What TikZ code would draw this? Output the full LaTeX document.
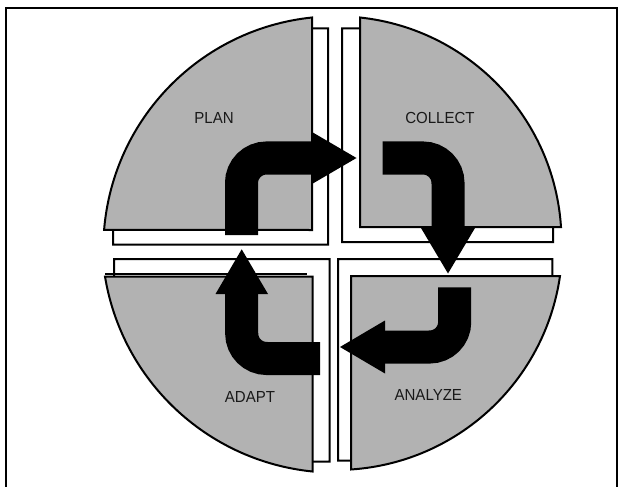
\documentclass[tikz,border=0pt]{standalone}
\usepackage{fontspec}
\setmainfont{Liberation Sans}
\definecolor{quadgray}{RGB}{178,178,178}
\begin{document}
\begin{tikzpicture}[x=1pt,y=1pt,yscale=-1,
  backrect/.style={draw=black,line width=2pt,fill=white,line join=miter},
  quad/.style={draw=black,line width=2pt,fill=quadgray,line join=miter},
  shaft/.style={draw=black,line width=33pt,rounded corners=25pt},
  head/.style={fill=black},
  lbl/.style={font=\fontsize{16}{19}\selectfont,text=black!90,xscale=0.94,inner sep=0pt},
  frame/.style={draw=black,line width=2.5pt}]
\useasboundingbox (0,0) rectangle (622,487);
% frame
\draw[frame] (6,495) -- (6,8) -- (617,8) -- (617,495);
% white back pieces (mostly hidden behind the quadrants)
\draw[backrect] (113,225) -- (113,244.5) -- (328,244.5) -- (328,28.5) -- (295,28.5) -- cycle;
\draw[backrect] (342,28.5) -- (375,28.5) -- (553,215) -- (553,242) -- (342,242) -- cycle;
\draw[backrect] (114,259) -- (329.5,259) -- (329.5,461.7) -- (300,461.7) -- (114,290) -- cycle;
\draw[backrect] (338,259) -- (552.3,259) -- (552.3,300) -- (370,460.5) -- (338,460.5) -- cycle;
% quadrants
\draw[quad] (312,230) -- (312,17.5) arc[start angle=264.08,end angle=184.68,radius=232.7] -- cycle;
\draw[quad] (360,227) -- (360,17.5) arc[start angle=276.11,end angle=356.26,radius=225.5] -- cycle;
\draw[quad] (312.5,276.5) -- (105,276.5) arc[start angle=170.68,end angle=95.76,radius=234.1] -- cycle;
\draw[black,line width=2pt] (105,274.3) -- (307,274.3);
\draw[quad] (351,276) -- (560,276) arc[start angle=8.21,end angle=86.2,radius=226.3] -- cycle;
% labels
\node[lbl] (plan) at (214,118.3) {PLAN};
\node[lbl] (collect) at (440,118.3) {COLLECT};
\node[lbl] (adapt) at (250,396.7) {ADAPT};
\node[lbl] (analyze) at (428.3,395) {ANALYZE};
% arrow 1: plan -> collect
\coordinate (a1s) at (241.5,235);
\coordinate (a1c) at (241.5,158);
\coordinate (a1e) at (312.5,158);
\coordinate (a1t) at (356.5,158);
\draw[shaft] (a1s) -- (a1c) -- (a1e);
\fill[head] (312,132) -- (a1t) -- (312,184) -- cycle;
% arrow 2: collect -> analyze
\coordinate (a2s) at (382.7,158);
\coordinate (a2c) at (448,158);
\coordinate (a2e) at (448,228.5);
\coordinate (a2t) at (448,273.5);
\draw[shaft] (a2s) -- (a2c) -- (a2e);
\fill[head] (421,228) -- (a2t) -- (475,228) -- cycle;
% arrow 3: analyze -> adapt
\coordinate (a3s) at (454.7,287.3);
\coordinate (a3c) at (454.7,347);
\coordinate (a3e) at (384.5,347);
\coordinate (a3t) at (340,347);
\draw[shaft] (a3s) -- (a3c) -- (a3e);
\fill[head] (385,320.5) -- (a3t) -- (385,373.5) -- cycle;
% arrow 4: adapt -> plan
\coordinate (a4s) at (320,358.5);
\coordinate (a4c) at (241.7,358.5);
\coordinate (a4e) at (241.7,293.5);
\coordinate (a4t) at (241.7,249.3);
\draw[shaft] (a4s) -- (a4c) -- (a4e);
\fill[head] (215.5,294) -- (a4t) -- (268,294) -- cycle;
\end{tikzpicture}
\end{document}
